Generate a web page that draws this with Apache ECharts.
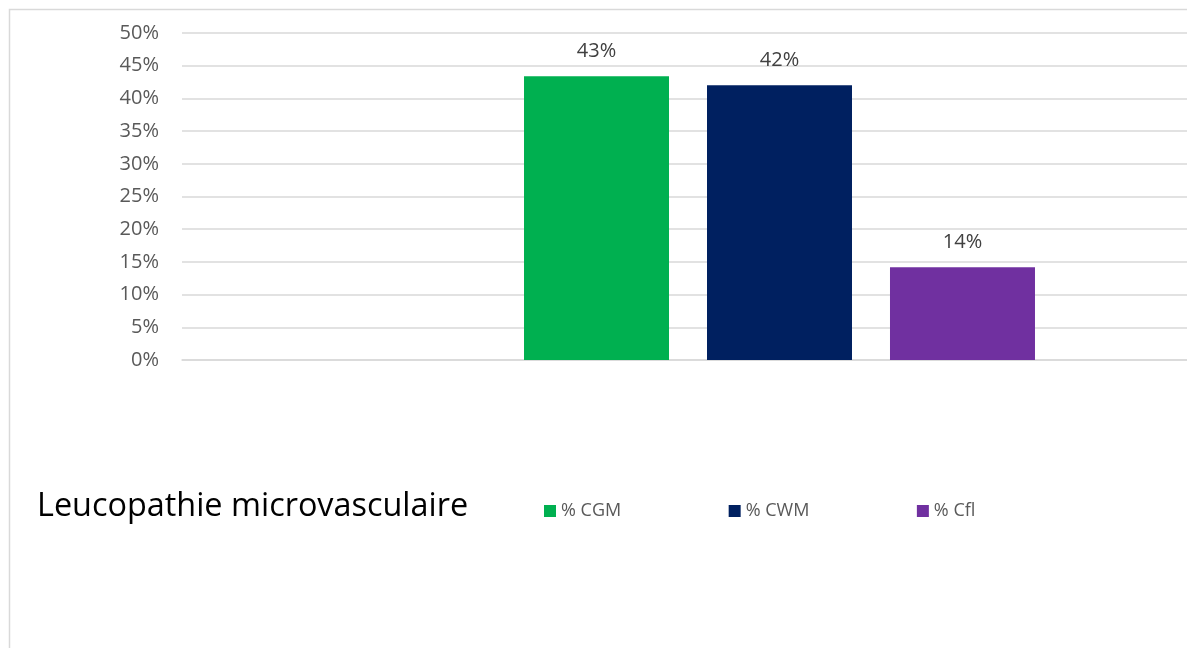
<!DOCTYPE html>
<html>
<head>
<meta charset="utf-8">
<script src="https://cdn.jsdelivr.net/npm/echarts@6/dist/echarts.min.js"></script>
<style>
html,body{margin:0;padding:0;background:#fff;}
#c{width:1187px;height:648px;}
</style>
</head>
<body>
<div id="c"></div>
<script>
var categories = ['Leucopathie microvasculaire'];
var seriesNames = ['% CGM', '% CWM', '% Cfl'];
var valuesCGM = [0.434];
var valuesCWM = [0.42];
var valuesCfl = [0.142];
var yTicks = {min: 0, max: 0.5, interval: 0.05};

var colors = ['#00B050', '#002060', '#7030A0'];
var font = 'Open Sans';
var chart = echarts.init(document.getElementById('c'));

function mk(name, data, color) {
  return {
    name: name, type: 'bar', data: data,
    barWidth: 145, barGap: '26.2%',
    itemStyle: {color: color},
    label: {
      show: true, position: 'top', distance: 15,
      color: '#404040', fontFamily: font, fontSize: 20,
      formatter: function (p) { return Math.round(p.value * 100) + '%'; }
    }
  };
}

chart.setOption({
  animation: false,
  backgroundColor: '#fff',
  graphic: [{
    type: 'polyline',
    shape: {points: [[9.5, 700], [9.5, 9.5], [1300, 9.5]]},
    style: {stroke: '#d9d9d9', lineWidth: 1.5, fill: null}
  }],
  title: {
    text: categories[0],
    left: 32, top: 486,
    textStyle: {fontFamily: font, fontSize: 32.4, fontWeight: 'normal', color: '#000'}
  },
  legend: {
    data: seriesNames,
    left: 539, top: 497,
    icon: 'rect', itemWidth: 12, itemHeight: 12, itemGap: 107.5,
    textStyle: {fontFamily: font, fontSize: 18, color: '#595959', padding: [0, 0, 0, 0]}
  },
  grid: {left: 182, top: 33, width: 1195, height: 327, containLabel: false, outerBoundsMode: 'none'},
  xAxis: {
    type: 'category', data: categories,
    axisLine: {show: true, lineStyle: {color: '#d9d9d9', width: 1.5}},
    axisTick: {show: false},
    axisLabel: {show: false}
  },
  yAxis: {
    type: 'value', min: yTicks.min, max: yTicks.max, interval: yTicks.interval,
    axisLine: {show: false}, axisTick: {show: false},
    splitLine: {lineStyle: {color: '#d9d9d9', width: 1.5}},
    axisLabel: {
      margin: 23, color: '#595959', fontFamily: font, fontSize: 20,
      formatter: function (v) { return Math.round(v * 100) + '%'; }
    }
  },
  series: [
    mk(seriesNames[0], valuesCGM, colors[0]),
    mk(seriesNames[1], valuesCWM, colors[1]),
    mk(seriesNames[2], valuesCfl, colors[2])
  ]
});
</script>
</body>
</html>
